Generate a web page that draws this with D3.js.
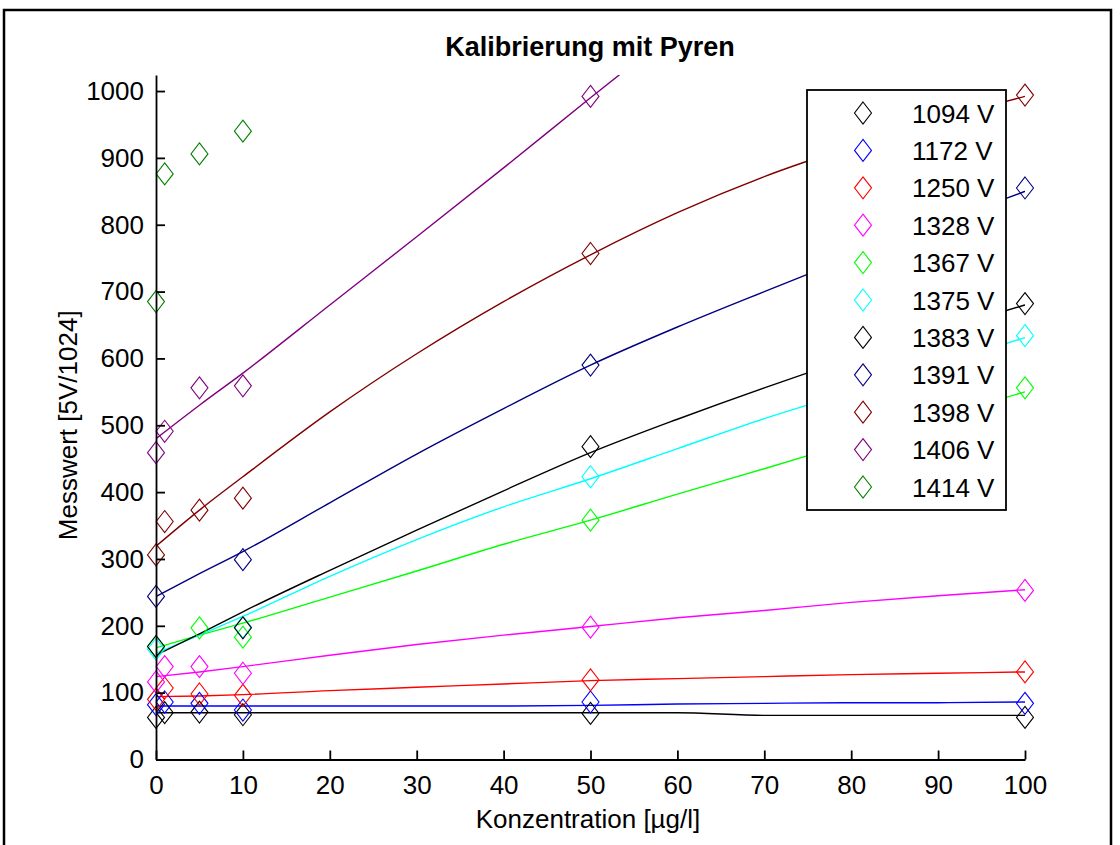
<!DOCTYPE html>
<html>
<head>
<meta charset="utf-8">
<script src="https://cdn.jsdelivr.net/npm/d3@7"></script>
<style>
  html, body { margin: 0; padding: 0; background: #fff; }
  svg { display: block; }
  text { font-family: "Liberation Sans", Arial, sans-serif; fill: #000; }
</style>
</head>
<body>
<svg id="chart" width="1120" height="845"></svg>
<script>
// Detector voltages (one series each)
const voltages = ["1094 V", "1172 V", "1250 V", "1328 V", "1367 V", "1375 V", "1383 V", "1391 V", "1398 V", "1406 V", "1414 V"];
const colors = ["#000000", "#0000ff", "#ff0000", "#ff00ff", "#00ff00", "#00ffff", "#000000", "#000080", "#800000", "#800080", "#008000"];

// Measured concentrations [µg/l]
const conc = [0, 1, 5, 10, 50, 100];

// Measured values [5V/1024] per voltage, null = not measured
const m1094 = [63, 70, 71, 67, 69, 63];
const m1172 = [82, 86, 84, 74, 86, 84];
const m1250 = [90, 107, 98, 96, 119, 131];
const m1328 = [116, 139, 139, 129, 198, 253];
const m1367 = [169, null, 197, 183, 358, 556];
const m1375 = [165, null, null, 198, 423, 634];
const m1383 = [169, null, null, 197, 468, 682];
const m1391 = [244, null, null, 299, 590, 855];
const m1398 = [306, 356, 373, 391, 757, 994];
const m1406 = [459, 491, 556, 559, 992, null];
const m1414 = [685, 876, 906, 940, null, null];
const measured = [m1094, m1172, m1250, m1328, m1367, m1375, m1383, m1391, m1398, m1406, m1414];

// Calibration curves sampled along the concentration axis
const fitConc = [0, 5, 10, 20, 30, 40, 50, 60, 70, 80, 90, 100];
const f1094 = [70, 70, 70, 70, 70, 70, 70, 70, 66, 66, 66, 66];
const f1172 = [80, 80, 80, 80, 80, 80, 81, 83, 84, 85, 85, 86];
const f1250 = [94, 95, 97, 103, 108, 113, 118, 121, 124, 127, 129, 131];
const f1328 = [124, 131, 139, 156, 172, 186, 199, 212, 223, 235, 245, 254];
const f1367 = [167, 186, 204, 243, 282, 322, 358, 397, 435, 474, 512, 550];
const f1375 = [159, 186, 214, 274, 329, 378, 420, 465, 510, 550, 591, 631];
const f1383 = [156, 188, 221, 283, 343, 402, 459, 509, 556, 600, 641, 680];
const f1391 = [244, 278, 311, 384, 457, 525, 590, 647, 700, 752, 802, 850];
const f1398 = [319, 373, 423, 520, 607, 685, 755, 818, 872, 917, 957, 992];
const f1406 = [480, 530, 578, 680, 782, 885, 990, 1093, null, null, null, null];
const fits = [f1094, f1172, f1250, f1328, f1367, f1375, f1383, f1391, f1398, f1406, null];

const xTicks = [0, 10, 20, 30, 40, 50, 60, 70, 80, 90, 100];
const yTicks = [0, 100, 200, 300, 400, 500, 600, 700, 800, 900, 1000];

const svg = d3.select("#chart");
const plot = { left: 156, right: 1025, top: 75, bottom: 759.5 };

const x = d3.scaleLinear().domain([0, 100]).range([plot.left, plot.right]);
const y = d3.scaleLinear().domain([0, 1024]).range([plot.bottom, plot.top]);

// figure frame
svg.append("rect")
  .attr("x", 4).attr("y", 10).attr("width", 1107).attr("height", 850)
  .attr("fill", "none").attr("stroke", "#000").attr("stroke-width", 2.5);

svg.append("defs").append("clipPath").attr("id", "plotclip")
  .append("rect")
  .attr("x", plot.left).attr("y", plot.top)
  .attr("width", plot.right - plot.left).attr("height", plot.bottom - plot.top);

// diamond marker path centred on 0,0
const dW = 8.5, dH = 11;
const diamond = `M0,${-dH}L${dW},0L0,${dH}L${-dW},0Z`;

const lineGen = d3.line()
  .defined(d => d[1] != null)
  .curve(d3.curveMonotoneX)
  .x(d => x(d[0])).y(d => y(d[1]));

const g = svg.append("g").attr("clip-path", "url(#plotclip)");

// fitted curves
fits.forEach((f, i) => {
  if (!f) return;
  g.append("path")
    .datum(fitConc.map((c, j) => [c, f[j]]))
    .attr("d", lineGen)
    .attr("fill", "none")
    .attr("stroke", colors[i])
    .attr("stroke-width", 1.4);
});

// measured points
const gm = svg.append("g");
measured.forEach((vals, i) => {
  gm.selectAll(null)
    .data(conc.map((c, j) => [c, vals[j]]).filter(d => d[1] != null))
    .join("path")
    .attr("d", diamond)
    .attr("transform", d => `translate(${x(d[0])},${y(d[1])})`)
    .attr("fill", "none")
    .attr("stroke", colors[i])
    .attr("stroke-width", 1.1);
});

// axes (ticks pointing inward)
const tickLen = 9;
const xAxis = svg.append("g").attr("transform", `translate(0,${plot.bottom})`)
  .call(d3.axisBottom(x).tickValues(xTicks).tickFormat(d3.format("d")).tickSizeInner(-tickLen).tickSizeOuter(0).tickPadding(16));
const yAxis = svg.append("g").attr("transform", `translate(${plot.left},0)`)
  .call(d3.axisLeft(y).tickValues(yTicks).tickFormat(d3.format("d")).tickSizeInner(-tickLen).tickSizeOuter(0).tickPadding(12));

[xAxis, yAxis].forEach(a => {
  a.select(".domain").attr("stroke", "#000").attr("stroke-width", 1.8);
  a.selectAll(".tick line").attr("stroke", "#000").attr("stroke-width", 1.8);
  a.selectAll(".tick text").style("font-size", "26px").attr("font-family", "Liberation Sans, Arial, sans-serif").attr("fill", "#000");
});

// title and axis labels
svg.append("text")
  .attr("x", 590).attr("y", 56)
  .attr("text-anchor", "middle")
  .style("font-size", "27px").style("font-weight", "bold")
  .text("Kalibrierung mit Pyren");

svg.append("text")
  .attr("x", 588).attr("y", 828)
  .attr("text-anchor", "middle")
  .style("font-size", "26px")
  .text("Konzentration [µg/l]");

svg.append("text")
  .attr("transform", `translate(77,${(plot.top + plot.bottom) / 2 + 8}) rotate(-90)`)
  .attr("text-anchor", "middle")
  .style("font-size", "26px")
  .text("Messwert [5V/1024]");

// legend
const leg = svg.append("g");
leg.append("rect")
  .attr("x", 807).attr("y", 90).attr("width", 199).attr("height", 420)
  .attr("fill", "#fff").attr("stroke", "#000").attr("stroke-width", 1.8);

voltages.forEach((v, i) => {
  const cy = 113 + i * 37.4;
  leg.append("path")
    .attr("d", diamond)
    .attr("transform", `translate(863,${cy})`)
    .attr("fill", "none").attr("stroke", colors[i]).attr("stroke-width", 1.1);
  leg.append("text")
    .attr("x", 912).attr("y", cy + 9.5)
    .style("font-size", "26px")
    .text(v);
});
</script>
</body>
</html>
